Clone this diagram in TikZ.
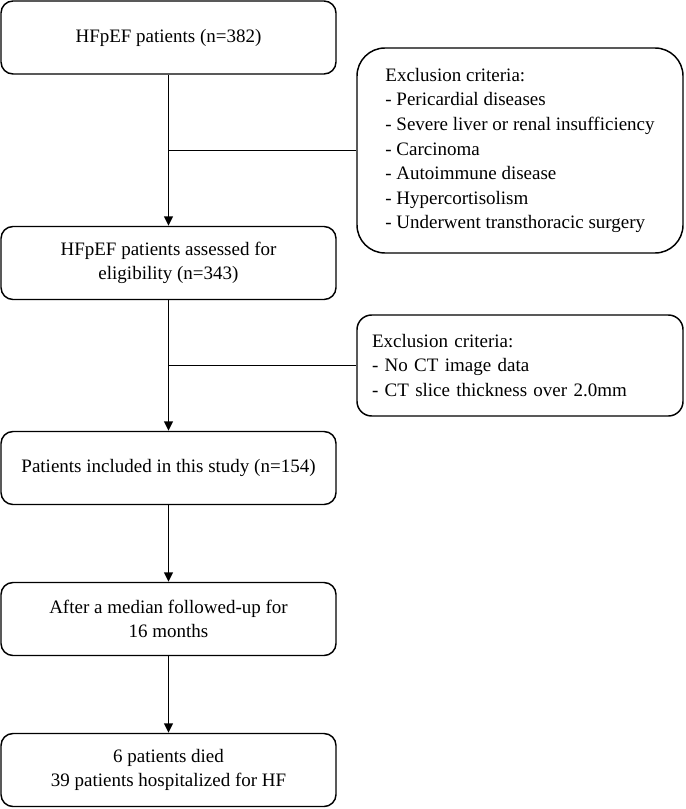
\documentclass[tikz,border=0pt]{standalone}
\usepackage{fontspec}
\setmainfont{Liberation Serif}
\usetikzlibrary{arrows.meta}
\begin{document}
\begin{tikzpicture}[>={Triangle[length=7pt,width=6.5pt]},x=0.75pt,y=-0.75pt,line width=1.1pt,
	font=\fontsize{14.25pt}{18.4pt}\selectfont,
	box/.style={draw,rounded corners=9pt,minimum width=251.25pt,minimum height=54.75pt,align=center,inner sep=2pt},
	excl/.style={draw,minimum width=244.5pt,align=left,inner sep=2pt}]
	\useasboundingbox (0,0) rectangle (685,809);
	% main flow
	\node[box] (pat) at (168.5,37.5) {HFpEF patients (n=382)};
	\node[box] (elig) at (168.5,263) {HFpEF patients assessed for\\eligibility (n=343)};
	\node[box] (incl) at (168.5,468) {Patients included in this study (n=154)};
	\node[box] (follow) at (168.5,619) {After a median followed-up for\\16 months};
	\node[box] (outcome) at (168.5,770) {6 patients died\\39 patients hospitalized for HF};
	% exclusions
	\node[excl,rounded corners=21pt,minimum height=153.75pt] (excl1) at (520,150.5) {Exclusion criteria:\\- Pericardial diseases\\- Severe liver or renal insufficiency\\- Carcinoma\\- Autoimmune disease\\- Hypercortisolism\\- Underwent transthoracic surgery};
	\node[excl,rounded corners=11pt,minimum height=75.75pt,text width=222pt] (excl2) at (520,365.5) {Exclusion criteria:\\- No CT image data\\- CT slice thickness over 2.0mm};
	% connectors
	\draw[->] (pat) -- (elig);
	\draw (pat.south |- excl1.west) -- (excl1.west);
	\draw[->] (elig) -- (incl);
	\draw (elig.south |- excl2.west) -- (excl2.west);
	\draw[->] (incl) -- (follow);
	\draw[->] (follow) -- (outcome);
\end{tikzpicture}
\end{document}
